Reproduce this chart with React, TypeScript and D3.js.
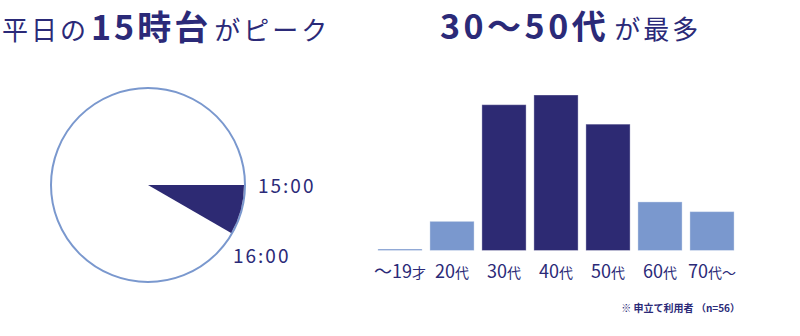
import React from "react";
import * as d3 from "d3";

const ageCategories = ["～19", "20", "30", "40", "50", "60", "70"];
const ageSuffix = ["才", "代", "代", "代", "代", "代", "代～"];
const ageCounts = [0, 3, 15, 16, 13, 5, 4];
const highlight = [false, false, true, true, true, false, false];
const peakHours = [15, 16];
const hourLabels = ["15:00", "16:00"];

const DARK = "#2d2a73";
const LIGHT = "#7a98ce";
const TEXT = "#2b2a78";
const FONT = "'Noto Sans CJK JP', 'Noto Sans', sans-serif";

export default function App() {
  const cx = 148, cy = 185, r = 97;
  const ang = d3.scaleLinear().domain([0, 12]).range([0, Math.PI * 2]);
  const arc = d3.arc<any>().innerRadius(0).outerRadius(r - 1);
  const wedge = arc({ startAngle: ang(peakHours[0] % 12), endAngle: ang(peakHours[1] % 12) } as any) || "";

  const x = d3.scaleBand<string>().domain(ageCategories).range([374, 738]).paddingInner(0.15).paddingOuter(0.075);
  const y = d3.scaleLinear().domain([0, 16]).range([250.5, 95]);

  return (
    <div style={{ position: "fixed", left: 0, top: 0 }}>
      <svg width={800} height={336} style={{ display: "block", background: "#fff" }} fontFamily={FONT}>
        <text x={2} y={40} fill={TEXT} fontSize={26} letterSpacing={3}>
          <tspan>平日の</tspan>
          <tspan fontSize={34} fontWeight={700} dx={2} letterSpacing={3}>15時台</tspan>
          <tspan dx={3}>がピーク</tspan>
        </text>
        <text x={440} y={39} fill={TEXT} fontSize={26} letterSpacing={3}>
          <tspan fontSize={34} fontWeight={700} letterSpacing={3.5}>30～50代</tspan>
          <tspan dx={5}>が最多</tspan>
        </text>

        <circle cx={cx} cy={cy} r={r} fill="#fff" stroke={LIGHT} strokeWidth={2} />
        <path d={wedge} transform={`translate(${cx},${cy})`} fill={DARK} />
        {hourLabels.map((lab, i) => {
          const a = ang(peakHours[i] % 12);
          const px = cx + Math.sin(a) * r;
          const py = cy - Math.cos(a) * r;
          return (
            <text key={lab} x={px + (i === 0 ? 13 : 1)} y={py + (i === 0 ? 8 : 29)} fill={TEXT} fontSize={19} letterSpacing={2}>
              {lab}
            </text>
          );
        })}

        {ageCategories.map((c, i) => {
          const h = Math.max(y(0) - y(ageCounts[i]), 1.5);
          return (
            <rect key={c} x={x(c)} y={y(0) - h} width={x.bandwidth()} height={h}
              fill={highlight[i] ? DARK : LIGHT} stroke="#ffffff" strokeOpacity={0.35} strokeWidth={1} />
          );
        })}
        {ageCategories.map((c, i) => (
          <text key={"l" + c} x={(x(c) as number) + x.bandwidth() / 2} y={278} textAnchor="middle" fill={TEXT} fontSize={18}>
            <tspan>{c}</tspan>
            <tspan fontSize={14}>{ageSuffix[i]}</tspan>
          </text>
        ))}
        <text x={740} y={312} textAnchor="end" fill={TEXT} fontSize={10} fontWeight={700}>※ 申立て利用者 （n=56）</text>
      </svg>
    </div>
  );
}
